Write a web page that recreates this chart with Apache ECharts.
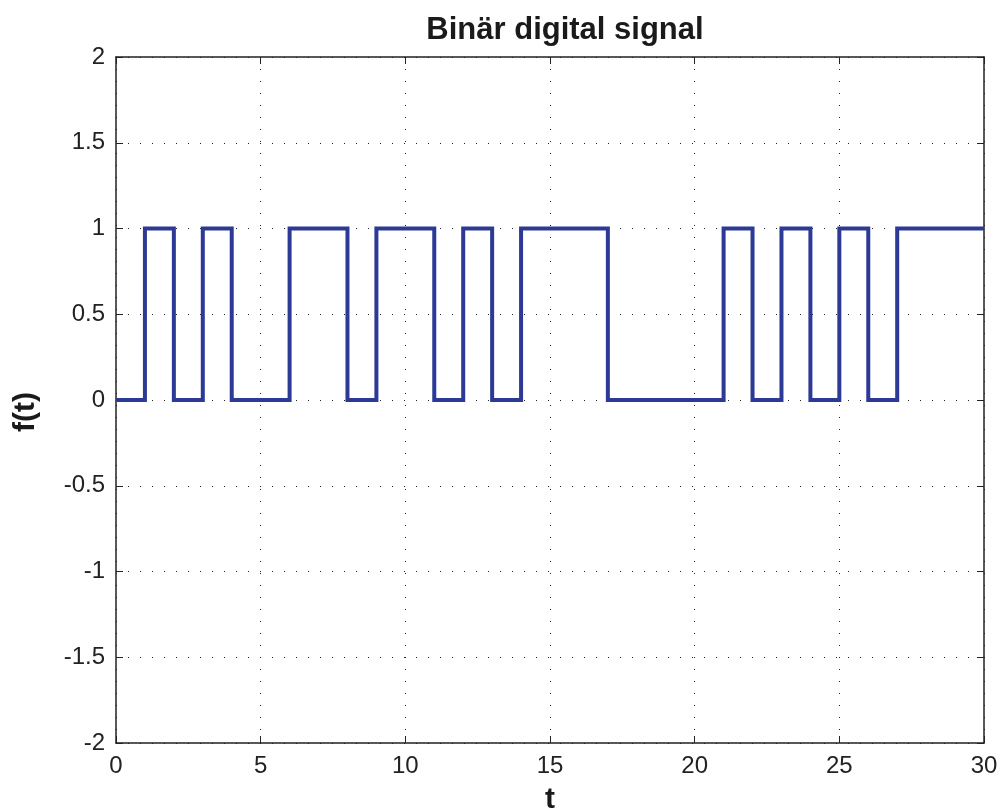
<!DOCTYPE html>
<html><head><meta charset="utf-8">
<script src="https://cdn.jsdelivr.net/npm/echarts@6/dist/echarts.min.js"></script>
<style>html,body{margin:0;padding:0;background:#fff}#c{width:1004px;height:811px}</style>
</head><body><div id="c"></div>
<script>
// bit value on each interval [t, t+1)
const tStart = [0,1,2,3,4,5,6,7,8,9,10,11,12,13,14,15,16,17,18,19,20,21,22,23,24,25,26,27,28,29,30];
const bits   = [0,1,0,1,0,0,1,1,0,1,1,0,1,0,1,1,1,0,0,0,0,1,0,1,0,1,0,1,1,1,1];
const xTicks = [0,5,10,15,20,25,30];
const yTicks = [-2,-1.5,-1,-0.5,0,0.5,1,1.5,2];
const titleText = 'Binär digital signal';
const xName = 't';
const yName = 'f(t)';

const data = tStart.map((t,i)=>[t,bits[i]]);
const font = '"Liberation Sans", Arial, Helvetica, sans-serif';
const chart = echarts.init(document.getElementById('c'));
const dotted = {show:true, lineStyle:{color:'#222', width:1, type:[1,11]}};
const tick = {show:true, inside:true, length:7, lineStyle:{color:'#222', width:1}};
const line = {show:true, onZero:false, lineStyle:{color:'#222', width:1.5}};
chart.setOption({
  animation:false,
  title:{text:titleText, left:560, top:10, textAlign:'center',
    textStyle:{fontFamily:font, fontSize:31, fontWeight:'bold', color:'#1a1a1a'}},
  grid:{left:116, right:20, top:57, bottom:68, containLabel:false, outerBoundsMode:'none'},
  xAxis:[{type:'value', min:0, max:30, interval:5, position:'bottom',
    axisLine:line, axisTick:tick, splitLine:dotted,
    axisLabel:{fontFamily:font, fontSize:24, color:'#222', margin:11},
    name:xName, nameLocation:'middle', nameGap:42,
    nameTextStyle:{fontFamily:font, fontSize:30, fontWeight:'bold', color:'#1a1a1a'}},
   {type:'value', min:0, max:30, interval:5, position:'top',
    axisLine:line, axisTick:tick, splitLine:{show:false}, axisLabel:{show:false}}],
  yAxis:[{type:'value', min:-2, max:2, interval:0.5, position:'left',
    axisLine:line, axisTick:tick, splitLine:dotted,
    axisLabel:{fontFamily:font, fontSize:24, color:'#222', margin:11},
    name:yName, nameLocation:'middle', nameGap:75, nameRotate:90,
    nameTextStyle:{fontFamily:font, fontSize:30, fontWeight:'bold', color:'#1a1a1a', padding:[0,24,0,0]}},
   {type:'value', min:-2, max:2, interval:0.5, position:'right',
    axisLine:line, axisTick:tick, splitLine:{show:false}, axisLabel:{show:false}}],
  series:[{type:'line', step:'end', data:data, showSymbol:false, symbol:'none',
    lineStyle:{color:'#2c3a96', width:4, join:'miter'}}]
});
</script></body></html>
